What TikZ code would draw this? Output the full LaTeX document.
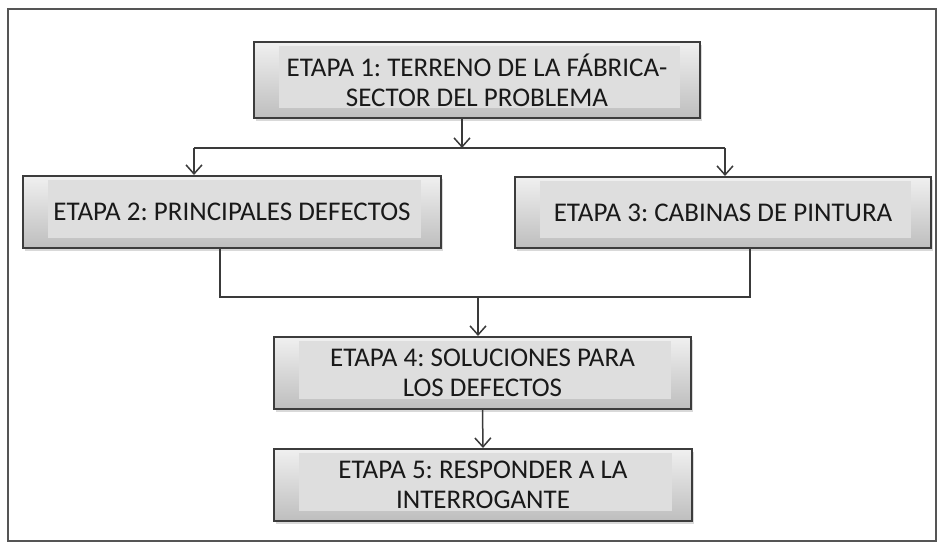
\documentclass[tikz,border=0pt]{standalone}
\usepackage{fontspec}
\setmainfont{Carlito}
\usepackage{xcolor}
\usetikzlibrary{arrows.meta,shadows}
\frenchspacing

\definecolor{boxline}{HTML}{3C3C3C}
\definecolor{boxtop}{HTML}{F0F0F0}
\definecolor{boxbottom}{HTML}{BEBEBE}
\definecolor{boxinner}{HTML}{DEDEDE}
\definecolor{wirecol}{HTML}{3A3A3A}
\definecolor{framecol}{HTML}{555555}

\tikzset{
  stage/.style={draw=boxline, line width=2pt, top color=boxtop, bottom color=boxbottom,
    drop shadow={shadow xshift=2pt, shadow yshift=-3pt, opacity=.3},
    path picture={\fill[boxinner] ([xshift=25pt,yshift=10pt]path picture bounding box.south west)
      rectangle ([xshift=-20pt,yshift=-4pt]path picture bounding box.north east);},
    align=center, text=black!90, inner sep=0pt, font=\fontsize{27}{30}\selectfont},
  wire/.style={draw=wirecol, line width=1.5pt},
  arrow/.style={wire, -{Straight Barb[length=9pt,width=16pt]}}
}

\begin{document}
\begin{tikzpicture}[x=1pt,y=-1pt]
            \useasboundingbox (0,0) rectangle (937,544);
            \draw[framecol, line width=1.5pt] (8,9) rectangle (936,541);

            \node[stage, minimum width=446pt, minimum height=76pt] (b1) at (477,80)
                {ETAPA 1: TERRENO DE LA FÁBRICA-\\SECTOR DEL PROBLEMA};
            \node[stage, minimum width=418pt, minimum height=72pt] (b2) at (232,212)
                {ETAPA 2: PRINCIPALES DEFECTOS};
            \node[stage, minimum width=416pt, minimum height=71pt] (b3) at (723,212.5)
                {ETAPA 3: CABINAS DE PINTURA};
            \node[stage, minimum width=417pt, minimum height=72pt] (b4) at (482.5,373)
                {ETAPA 4: SOLUCIONES PARA\\LOS DEFECTOS};
            \node[stage, minimum width=418pt, minimum height=72pt] (b5) at (483,485)
                {ETAPA 5: RESPONDER A LA\\INTERROGANTE};

            \coordinate (split) at (462,148);
            \coordinate (splitL) at (194,148);
            \coordinate (splitR) at (725,148);
            \coordinate (joinL) at (220,297);
            \coordinate (joinR) at (750,297);
            \coordinate (join) at (478,297);

            \draw[arrow] (b1.south -| split) -- (split); % b1-bar
            \draw[wire] (splitL) -- (splitR); % upper bar
            \draw[arrow] (splitL) -- (splitL |- b2.north); % bar-b2
            \draw[arrow] (splitR) -- (splitR |- b3.north); % bar-b3
            \draw[wire] (b2.south -| joinL) -- (joinL) -- (joinR) -- (b3.south -| joinR); % b2-b3
            \draw[arrow] (join) -- (join |- b4.north); % bar-b4
            \draw[arrow] (b4.south) -- (b5.north); % b4-b5
        \end{tikzpicture}
\end{document}
